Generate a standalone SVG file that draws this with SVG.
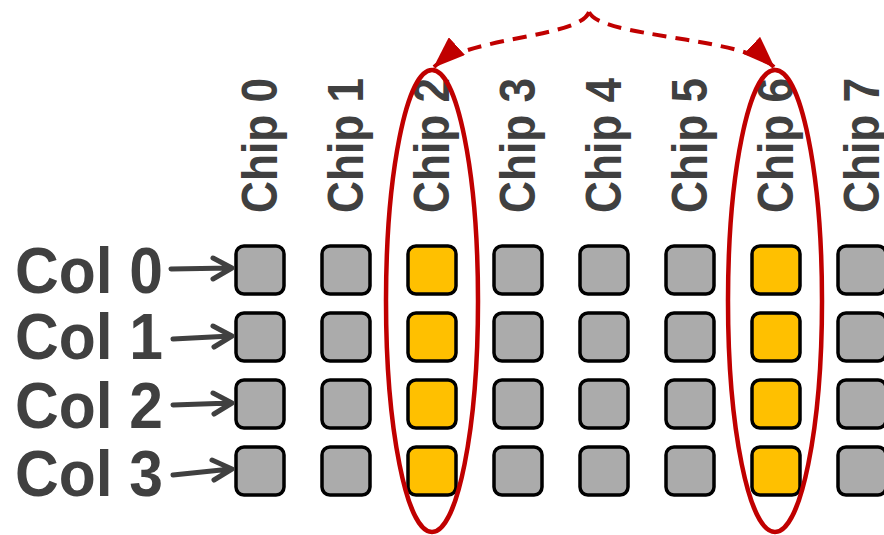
<svg xmlns="http://www.w3.org/2000/svg" width="884" height="535" viewBox="0 0 884 535">
  <style>
    .lbl { font-family: "Liberation Sans", Arial, sans-serif; font-weight: bold; fill: #404040; }
    .chip { font-size: 50px; }
    .col { font-size: 64px; }
    .cell { stroke: #000; stroke-width: 3.5; }
    .off { fill: #ABABAB; }
    .on { fill: #FFC000; }
    .ring { fill: none; stroke: #C00000; stroke-width: 4.5; }
    .ptr { fill: none; stroke: #404040; stroke-width: 5; stroke-linecap: round; stroke-linejoin: round; }
    .link { fill: none; stroke: #C00000; stroke-width: 4; stroke-dasharray: 14 9; }
  </style>
  <defs>
    <marker id="tri" viewBox="0 0 32 24" refX="31" refY="12" markerWidth="32" markerHeight="24" markerUnits="userSpaceOnUse" orient="auto">
      <path d="M0,0 L32,12 L0,24 Z" fill="#C00000"/>
    </marker>
    <rect id="cell" width="48" height="48" rx="8" ry="8"/>
  </defs>

  <rect width="884" height="535" fill="#fff"/>

  <!-- chip headings -->
  <g id="chip-labels" class="lbl chip">
    <text transform="translate(277,213) rotate(-90)" textLength="135" lengthAdjust="spacingAndGlyphs">Chip 0</text>
    <text transform="translate(363,213) rotate(-90)" textLength="135" lengthAdjust="spacingAndGlyphs">Chip 1</text>
    <text transform="translate(449,213) rotate(-90)" textLength="135" lengthAdjust="spacingAndGlyphs">Chip 2</text>
    <text transform="translate(535,213) rotate(-90)" textLength="135" lengthAdjust="spacingAndGlyphs">Chip 3</text>
    <text transform="translate(621,213) rotate(-90)" textLength="135" lengthAdjust="spacingAndGlyphs">Chip 4</text>
    <text transform="translate(707,213) rotate(-90)" textLength="135" lengthAdjust="spacingAndGlyphs">Chip 5</text>
    <text transform="translate(793,213) rotate(-90)" textLength="135" lengthAdjust="spacingAndGlyphs">Chip 6</text>
    <text transform="translate(879,213) rotate(-90)" textLength="135" lengthAdjust="spacingAndGlyphs">Chip 7</text>
  </g>

  <!-- column headings -->
  <g id="col-labels" class="lbl col">
    <text x="15" y="293" textLength="148" lengthAdjust="spacingAndGlyphs">Col 0</text>
    <text x="15" y="359" textLength="148" lengthAdjust="spacingAndGlyphs">Col 1</text>
    <text x="15" y="428" textLength="148" lengthAdjust="spacingAndGlyphs">Col 2</text>
    <text x="15" y="496" textLength="148" lengthAdjust="spacingAndGlyphs">Col 3</text>
  </g>

  <!-- cell grid: 8 chips x 4 columns -->
  <g id="grid" class="cell">
    <g id="chip0" class="off">
      <use href="#cell" x="236" y="246"/><use href="#cell" x="236" y="313"/><use href="#cell" x="236" y="380"/><use href="#cell" x="236" y="447"/>
    </g>
    <g id="chip1" class="off">
      <use href="#cell" x="322" y="246"/><use href="#cell" x="322" y="313"/><use href="#cell" x="322" y="380"/><use href="#cell" x="322" y="447"/>
    </g>
    <g id="chip2" class="on">
      <use href="#cell" x="408" y="246"/><use href="#cell" x="408" y="313"/><use href="#cell" x="408" y="380"/><use href="#cell" x="408" y="447"/>
    </g>
    <g id="chip3" class="off">
      <use href="#cell" x="494" y="246"/><use href="#cell" x="494" y="313"/><use href="#cell" x="494" y="380"/><use href="#cell" x="494" y="447"/>
    </g>
    <g id="chip4" class="off">
      <use href="#cell" x="580" y="246"/><use href="#cell" x="580" y="313"/><use href="#cell" x="580" y="380"/><use href="#cell" x="580" y="447"/>
    </g>
    <g id="chip5" class="off">
      <use href="#cell" x="666" y="246"/><use href="#cell" x="666" y="313"/><use href="#cell" x="666" y="380"/><use href="#cell" x="666" y="447"/>
    </g>
    <g id="chip6" class="on">
      <use href="#cell" x="752" y="246"/><use href="#cell" x="752" y="313"/><use href="#cell" x="752" y="380"/><use href="#cell" x="752" y="447"/>
    </g>
    <g id="chip7" class="off">
      <use href="#cell" x="838" y="246"/><use href="#cell" x="838" y="313"/><use href="#cell" x="838" y="380"/><use href="#cell" x="838" y="447"/>
    </g>
  </g>

  <!-- highlight rings around the selected chips -->
  <g id="rings">
    <ellipse id="ring-chip2" class="ring" cx="432" cy="301" rx="46" ry="231"/>
    <ellipse id="ring-chip6" class="ring" cx="775" cy="301" rx="47" ry="231"/>
  </g>

  <!-- connectors -->
  <g id="connectors">
    <g id="col-pointers" class="ptr">
      <path d="M171,269 L231,268 M213,258 L232,268 L213,279"/>
      <path d="M173,339 L231,336 M213,326 L232,336 L214,347"/>
      <path d="M173,405 L231,403 M213,393 L232,403 L214,414"/>
      <path d="M173,475 L231,469 M212,460 L232,469 L214,480"/>
    </g>
    <g id="chip-link">
      <path class="link" d="M589,12 C580,38 468,36 434,67" marker-end="url(#tri)"/>
      <path class="link" d="M589,12 C600,38 742,36 774,67" marker-end="url(#tri)"/>
    </g>
  </g>
</svg>
